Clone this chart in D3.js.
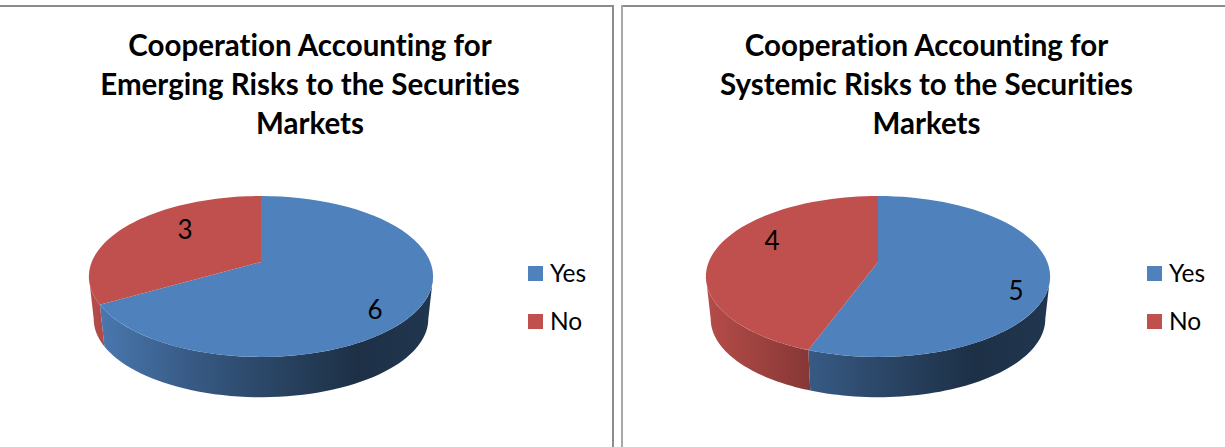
<!DOCTYPE html>
<html>
<head>
<meta charset="utf-8">
<script src="https://cdnjs.cloudflare.com/ajax/libs/d3/7.9.0/d3.min.js"></script>
<style>
html,body{margin:0;padding:0;background:#fff;overflow:hidden}
svg{display:block}
text{font-family:Lato,"Open Sans",sans-serif;fill:#000;font-variant-ligatures:none}
</style>
</head>
<body>
<svg id="chart" width="1225" height="447"></svg>
<script>
// Chart content
const categories = ["Yes", "No"];
const emergingValues = [6, 3];
const systemicValues = [5, 4];
const emergingTitle = ["Cooperation Accounting for", "Emerging Risks to the Securities", "Markets"];
const systemicTitle = ["Cooperation Accounting for", "Systemic Risks to the Securities", "Markets"];
const sliceColors = ["#4f81bd", "#c0504d"];

// Panel layout
const panels = [
  {values: emergingValues, title: emergingTitle, cx: 261, titleX: 310, legendX: 528, labels: [[375, 310], [185, 230]]},
  {values: systemicValues, title: systemicTitle, cx: 878, titleX: 926.5, legendX: 1147, labels: [[1016, 291], [772, 241]]}
];

const W = 1225, H = 447;
const svg = d3.select("#chart");
const defs = svg.append("defs");
const color = d3.scaleOrdinal(categories, sliceColors);
const pie = d3.pie().sort(null).startAngle(0).endAngle(2 * Math.PI);

// Perspective of the disc: a unit circle projected onto the page
const K = -0.18, APEX_Y = 262, Y_SCALE = 30.7, X_SCALE = 169.3;
const MID_Y = 276.5, DEPTH_SCALE = 0.972, BOTTOM_MID_Y = 319;

const topPoint = (cx, a) => {
  const u = Math.sin(a), v = -Math.cos(a), w = 1 + K * v;
  return [cx + X_SCALE * u / w, (Y_SCALE * v + APEX_Y) / w];
};
const bottomPoint = (cx, a) => {
  const [x, y] = topPoint(cx, a);
  return [cx + (x - cx) * DEPTH_SCALE, BOTTOM_MID_Y + (y - MID_Y) * DEPTH_SCALE];
};
const arcAngles = (a0, a1) => d3.range(0, 61).map(i => a0 + (a1 - a0) * i / 60);
const outline = d3.line();

// The rim is visible between the two widest points of the top face
const RIM_START = Math.acos(K), RIM_END = 2 * Math.PI - RIM_START;

function rimGradient(id, base, cx) {
  const c = d3.rgb(base);
  const shade = f => d3.rgb(c.r * f, c.g * f, c.b * f).formatHex();
  const g = defs.append("linearGradient").attr("id", id)
    .attr("gradientUnits", "userSpaceOnUse")
    .attr("x1", cx - 172).attr("x2", cx + 172).attr("y1", 0).attr("y2", 0);
  [[0, 0.95], [0.3, 0.7], [0.55, 0.52], [0.78, 0.37], [1, 0.42]].forEach(([o, f]) =>
    g.append("stop").attr("offset", o).attr("stop-color", shade(f)));
}

panels.forEach((p, pi) => {
  const g = svg.append("g");
  const slices = pie(p.values);

  categories.forEach((cat, i) => rimGradient(`rim-${pi}-${i}`, color(cat), p.cx));

  // Rim first, top face painted over it
  slices.forEach((s, i) => {
    const a0 = Math.max(s.startAngle, RIM_START), a1 = Math.min(s.endAngle, RIM_END);
    if (a1 <= a0) return;
    const as = arcAngles(a0, a1);
    const pts = as.map(a => topPoint(p.cx, a)).concat(as.slice().reverse().map(a => bottomPoint(p.cx, a)));
    g.append("path").attr("d", outline(pts) + "Z").attr("fill", `url(#rim-${pi}-${i})`);
  });

  slices.forEach((s, i) => {
    const pts = [[p.cx, APEX_Y]].concat(arcAngles(s.startAngle, s.endAngle).map(a => topPoint(p.cx, a)));
    g.append("path").attr("d", outline(pts) + "Z").attr("fill", color(categories[i]));
  });

  // Value labels
  slices.forEach((s, i) => {
    g.append("text").attr("x", p.labels[i][0]).attr("y", p.labels[i][1])
      .attr("text-anchor", "middle").attr("dy", "0.35em")
      .style("font-size", "26px").text(s.value);
  });

  // Title
  g.append("text").attr("text-anchor", "middle").style("font-weight", 700).style("font-size", "29.5px")
    .selectAll("tspan").data(p.title).join("tspan")
    .attr("x", p.titleX).attr("y", (d, i) => 56 + i * 39).text(d => d);

  // Legend
  categories.forEach((cat, i) => {
    const y = 266 + i * 48;
    g.append("rect").attr("x", p.legendX).attr("y", y).attr("width", 15).attr("height", 15).attr("fill", color(cat));
    g.append("text").attr("x", p.legendX + 22).attr("y", y + 16).style("font-size", "24.5px").text(cat);
  });
});

// Panel frames
const frame = svg.append("g");
frame.append("rect").attr("x", 0).attr("y", 5).attr("width", 614).attr("height", 2).attr("fill", "#8c8c8c");
frame.append("rect").attr("x", 612).attr("y", 5).attr("width", 2).attr("height", H - 5).attr("fill", "#8c8c8c");
frame.append("rect").attr("x", 621).attr("y", 5).attr("width", W - 621).attr("height", 2).attr("fill", "#8c8c8c");
frame.append("rect").attr("x", 621).attr("y", 5).attr("width", 2).attr("height", H - 5).attr("fill", "#a8a8a8");
</script>
</body>
</html>
